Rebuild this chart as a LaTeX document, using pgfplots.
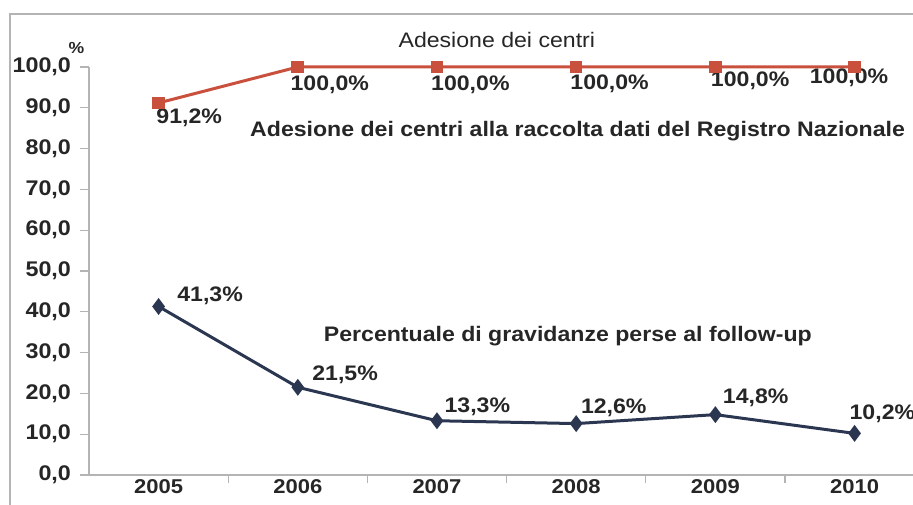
\documentclass[border=0pt]{standalone}
\usepackage{fontspec}
\setmainfont{Liberation Sans}[FakeStretch=1.1]
\usepackage{pgfplots}
\pgfplotsset{compat=1.18}
\definecolor{redl}{HTML}{C8503C}
\definecolor{bluel}{HTML}{2B3650}
\definecolor{axg}{HTML}{B4B4B4}
\begin{document}
\begin{tikzpicture}
\path[use as bounding box] (-44.5pt,-14.5pt) rectangle (412pt,237.5pt);
\draw[color=axg,line width=1pt] (-39.5pt,-15pt) -- (-39.5pt,230.5pt) -- (413pt,230.5pt);
\begin{axis}[
  at={(0,0)}, anchor=south west,
  scale only axis, width=412pt, height=204pt,
  xmin=-0.5, xmax=5.42, ymin=0, ymax=100,
  clip=false,
  axis x line=bottom, axis y line=left,
  axis line style={color=axg,line width=0.6pt,-},
  xtick={0,...,5}, xticklabels={2005,2006,2007,2008,2009,2010},
  major x tick style={draw=none},
  minor xtick={0.5,1.5,2.5,3.5,4.5},
  minor tick length=4pt,
  minor x tick style={color=axg,line width=0.6pt},
  xtick align=outside,
  ytick={0,10,...,100}, ytick align=outside, major tick length=4.5pt,
  y tick style={color=axg,line width=0.6pt},
  every tick label/.append style={font=\fontsize{10.6}{11}\selectfont\bfseries, text=black!85},
  xticklabel style={font=\fontsize{10}{11}\selectfont\bfseries, yshift=2.2pt, inner sep=0pt},
  yticklabel style={xshift=-1pt},
  /pgf/number format/.cd, fixed, fixed zerofill, precision=1, use comma, assume math mode=true,
]
\addplot[color=redl, line width=1.5pt, mark=square*, mark size=2.4pt, mark options={fill=redl}]
  coordinates {(0,91.2) (1,100) (2,100) (3,100) (4,100) (5,100)};
\addplot[color=bluel, line width=1.5pt, mark=diamond*, mark size=3pt, mark options={fill=bluel}]
  coordinates {(0,41.3) (1,21.5) (2,13.3) (3,12.6) (4,14.8) (5,10.2)};
\begin{scope}[every node/.style={font=\fontsize{10.5}{11}\selectfont\bfseries, text=black!85}]
\node at (axis cs:0.22,87.5) {91,2\%};
\node at (axis cs:1.23,95.6) {100,0\%};
\node at (axis cs:2.24,95.6) {100,0\%};
\node at (axis cs:3.24,95.8) {100,0\%};
\node at (axis cs:4.25,96.6) {100,0\%};
\node at (axis cs:4.96,97.3) {100,0\%};
\node at (axis cs:0.37,43.9) {41,3\%};
\node at (axis cs:1.34,24.5) {21,5\%};
\node at (axis cs:2.29,16.7) {13,3\%};
\node at (axis cs:3.27,16.4) {12,6\%};
\node at (axis cs:4.29,18.9) {14,8\%};
\node at (axis cs:5.2,15.0) {10,2\%};
\node at (axis cs:3.01,84.3) {Adesione dei centri alla raccolta dati del Registro Nazionale};
\node at (axis cs:2.94,34.1) {Percentuale di gravidanze perse al follow-up};
\node[font=\fontsize{8}{9}\selectfont\bfseries] at (axis cs:-0.59,104.7) {\%};
\end{scope}
\node[font=\fontsize{10.5}{11}\selectfont, text=black!85] at (axis cs:2.43,106.6) {Adesione dei centri};
\end{axis}
\end{tikzpicture}
\end{document}
